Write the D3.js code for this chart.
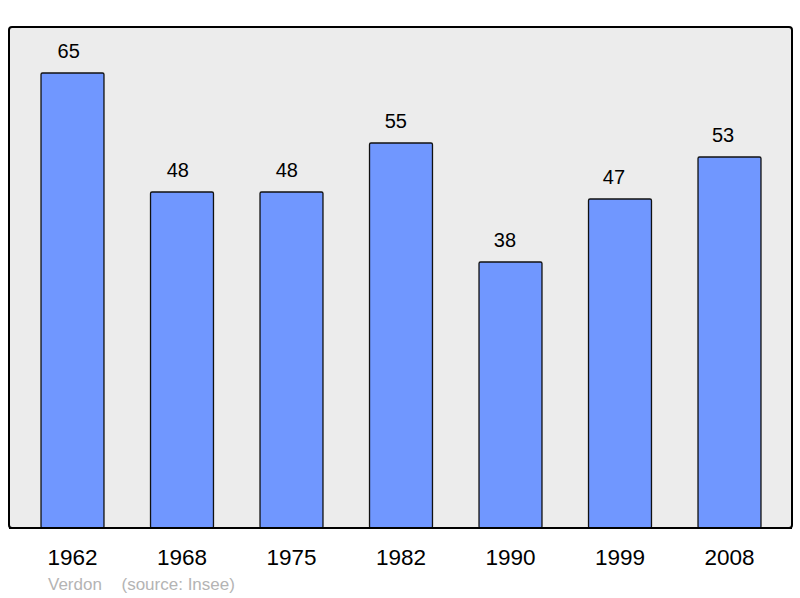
<!DOCTYPE html>
<html>
<head>
<meta charset="utf-8">
<script src="https://cdnjs.cloudflare.com/ajax/libs/d3/7.8.5/d3.min.js"></script>
<style>
  body { margin: 0; background: #fff; }
  text { font-family: "Liberation Sans", Arial, sans-serif; }
</style>
</head>
<body>
<div id="graphe"></div>
<script>
// données : population par recensement
var annees = ["1962", "1968", "1975", "1982", "1990", "1999", "2008"];
var population = [65, 48, 48, 55, 38, 47, 53];
var commune = "Verdon";
var source = "(source: Insee)";

var largeur = 800, hauteur = 598;
var svg = d3.select("#graphe")
  .append("svg")
  .attr("width", largeur)
  .attr("height", hauteur);

// cadre du graphique
var cadre = { x: 9, y: 27, w: 783, h: 501 };
svg.append("rect")
  .attr("x", cadre.x)
  .attr("y", cadre.y)
  .attr("width", cadre.w)
  .attr("height", cadre.h)
  .attr("rx", 3)
  .attr("fill", "#ececec")
  .attr("stroke", "#000")
  .attr("stroke-width", 2);

// échelles
var x = d3.scaleBand()
  .domain(annees)
  .range([17.75, 784.25])
  .paddingInner(0.425)
  .paddingOuter(0.2125);

// les valeurs sont un peu décalées à gauche des barres
var xEtiquette = d3.scalePoint()
  .domain(annees)
  .range([68.7, 723]);

var y = d3.scaleLinear()
  .domain([0, 65])
  .range([528, 73]);

var donnees = annees.map(function(a, i) { return { annee: a, val: population[i] }; });

// barres
svg.selectAll(".barre")
  .data(donnees)
  .enter()
  .append("rect")
  .attr("class", "barre")
  .attr("x", function(d) { return x(d.annee); })
  .attr("y", function(d) { return y(d.val); })
  .attr("width", x.bandwidth())
  .attr("height", function(d) { return y(0) - y(d.val); })
  .attr("rx", 1.5)
  .attr("fill", "#7097ff")
  .attr("stroke", "#111")
  .attr("stroke-width", 1.3);

// ligne du bas redessinée par-dessus
svg.append("line")
  .attr("x1", cadre.x).attr("x2", cadre.x + cadre.w)
  .attr("y1", 528).attr("y2", 528)
  .attr("stroke", "#000")
  .attr("stroke-width", 2);

// valeurs au-dessus des barres
svg.selectAll(".valeur")
  .data(donnees)
  .enter()
  .append("text")
  .attr("class", "valeur")
  .attr("x", function(d) { return xEtiquette(d.annee); })
  .attr("y", function(d) { return y(d.val) - 14.7; })
  .attr("text-anchor", "middle")
  .attr("font-size", "20px")
  .attr("fill", "#000")
  .text(function(d) { return d.val; });

// années
svg.selectAll(".annee")
  .data(annees)
  .enter()
  .append("text")
  .attr("class", "annee")
  .attr("x", function(d) { return x(d) + x.bandwidth() / 2; })
  .attr("y", 565)
  .attr("text-anchor", "middle")
  .attr("font-size", "22.5px")
  .attr("fill", "#000")
  .text(function(d) { return d; });

// pied de page
svg.append("text")
  .attr("x", 48)
  .attr("y", 590)
  .attr("font-size", "17px")
  .attr("fill", "#b4b4b4")
  .text(commune);
svg.append("text")
  .attr("x", 121.5)
  .attr("y", 590)
  .attr("font-size", "17px")
  .attr("fill", "#b4b4b4")
  .text(source);
</script>
</body>
</html>
